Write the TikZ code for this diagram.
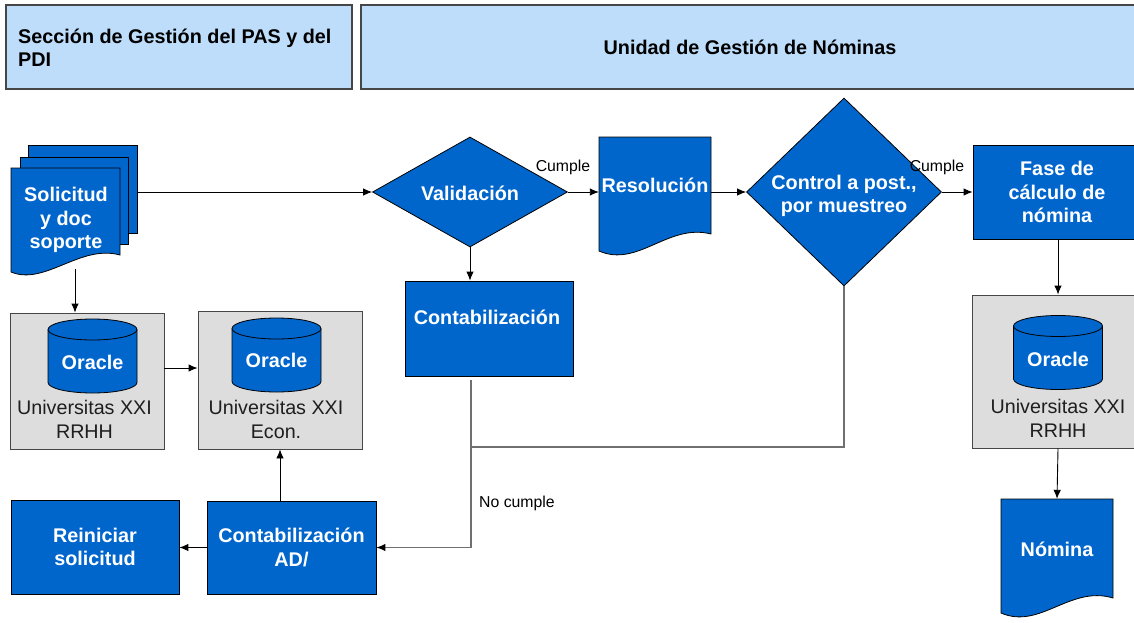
\documentclass[tikz,border=0pt]{standalone}
\usepackage{fontspec}
\setmainfont{Liberation Sans}
\usetikzlibrary{shapes.geometric,arrows.meta}
\definecolor{bbox}{RGB}{0,102,204}
\definecolor{hdrblue}{RGB}{189,221,251}
\definecolor{gfill}{RGB}{221,221,221}
\definecolor{glinec}{RGB}{112,112,112}
\definecolor{gborder}{RGB}{70,70,70}
\definecolor{gtxt}{RGB}{30,30,30}
\begin{document}
\begin{tikzpicture}[x=1pt,y=-1pt,
  hdr/.style={draw=gborder, line width=1.3pt, fill=hdrblue, inner sep=0pt},
  htext/.style={text=black, font=\bfseries\fontsize{19.8}{23}\selectfont, inner sep=0pt},
  bluebox/.style={draw=black, line width=0.8pt, fill=bbox, inner sep=0pt},
  bshape/.style={draw=black, line width=0.8pt, fill=bbox},
  dia/.style={diamond, aspect=1, draw=black, line width=0.8pt, fill=bbox, inner sep=0pt},
  btext/.style={text=white, font=\bfseries\fontsize{19.8}{23.5}\selectfont, align=center, inner sep=0pt},
  gbox/.style={draw=gborder, line width=0.9pt, fill=gfill, inner sep=0pt},
  gtext/.style={text=gtxt, font=\fontsize{19.7}{24}\selectfont, align=center, inner sep=0pt},
  lbl/.style={text=black, font=\fontsize{15.8}{17}\selectfont, inner sep=0pt},
  ghost/.style={inner sep=0pt, draw=none},
  conn/.style={draw=black, line width=0.9pt, -{Latex[length=9pt,width=7.5pt]}},
  gconn/.style={draw=glinec, line width=1.1pt, -{Latex[length=9pt,width=7.5pt,color=black]}},
  gpath/.style={draw=glinec, line width=1.1pt},
  pics/dbcyl/.style={code={
    \draw[bshape] (-44.5,-26.5) -- (-44.5,26.5) .. controls (-44.5,32.3) and (-24.6,37) .. (0,37)
      .. controls (24.6,37) and (44.5,32.3) .. (44.5,26.5) -- (44.5,-26.5)
      .. controls (44.5,-32.3) and (24.6,-37) .. (0,-37)
      .. controls (-24.6,-37) and (-44.5,-32.3) .. (-44.5,-26.5) -- cycle;
    \draw[draw=black, line width=0.8pt] (-44.5,-26.5) .. controls (-44.5,-20.7) and (-24.6,-16) .. (0,-16)
      .. controls (24.6,-16) and (44.5,-20.7) .. (44.5,-26.5);
  }}
]
\useasboundingbox (0,0) rectangle (1134,623);
\clip (0,0) rectangle (1134,623);
\fill[white] (0,0) rectangle (1134,623);

% headers
\node[hdr, minimum width=346pt, minimum height=84pt] (h1) at (179,47) {};
\node[htext, anchor=west, align=left] (h1t) at (18,48) {Sección de Gestión del PAS y del\\PDI};
\node[hdr, minimum width=779pt, minimum height=84pt] (h2) at (750.5,47) {};
\node[htext] (h2t) at (750,47) {Unidad de Gestión de Nóminas};

% Solicitud (multi-document)
\node[ghost, minimum width=126pt, minimum height=132pt] (sol) at (74,211) {};
\draw[bshape] (28,145) rectangle (137,233);
\draw[bshape] (20,157) rectangle (128,244);
\draw[bshape] (11,168) -- (120,168) -- (120,255) .. controls (80,244) and (45,286) .. (11,272) -- cycle;
\node[btext] (solt) at (66,220) {Solicitud\\y doc\\soporte};
\coordinate (solB) at (75,269);

% Validacion
\node[dia, minimum width=195pt, minimum height=110pt] (val) at (470,192) {};
\node[btext] (valt) at (470,193) {Validación};
\node[lbl] (cu1) at (563,167) {Cumple};

% Resolucion (document)
\node[ghost, minimum width=112pt, minimum height=120pt] (res) at (655,197) {};
\draw[bshape] (599,137) -- (711,137) -- (711,234) .. controls (668,223) and (638,268) .. (599,251) -- cycle;
\node[btext] (rest) at (655,185) {Resolución};

% Control
\node[dia, minimum width=195pt, minimum height=188pt] (ctrl) at (844,192) {};
\node[btext] (ctrlt) at (844,196) {Control a post.,\\por muestreo};
\node[lbl] (cu2) at (937,167) {Cumple};

% Fase
\node[bluebox, btext, minimum width=168pt, minimum height=94pt] (fase) at (1057,192) {Fase de\\cálculo de\\nómina};

% gray box right
\node[gbox, minimum width=172pt, minimum height=153pt] (g3) at (1058,371.5) {};
\pic at (1058,352.5) {dbcyl};
\node[btext] (o3) at (1058,359) {Oracle};
\node[gtext] (g3t) at (1058,418) {Universitas XXI\\RRHH};

% Nomina (document)
\node[ghost, minimum width=112pt, minimum height=121pt] (nom) at (1057,559.5) {};
\draw[bshape] (1001,499) -- (1113,499) -- (1113,598) .. controls (1070,585) and (1040,630) .. (1001,613) -- cycle;
\node[btext] (nomt) at (1057,549) {Nómina};

% Contabilizacion
\node[bluebox, minimum width=168pt, minimum height=95pt] (cont) at (489,328.5) {};
\node[btext] (contt) at (487,317) {Contabilización};

% gray boxes left
\node[gbox, minimum width=154pt, minimum height=136pt] (g1) at (87,381) {};
\pic at (92.5,356) {dbcyl};
\node[btext] (o1) at (92.5,362) {Oracle};
\node[gtext] (g1t) at (84.5,419.5) {Universitas XXI\\RRHH};

\node[gbox, minimum width=164pt, minimum height=138pt] (g2) at (280,380) {};
\pic at (276.5,355) {dbcyl};
\node[btext] (o2) at (276.5,360) {Oracle};
\node[gtext] (g2t) at (276,419.5) {Universitas XXI\\Econ.};

% bottom boxes
\node[bluebox, btext, minimum width=168pt, minimum height=94pt] (rein) at (95,547) {Reiniciar\\solicitud};
\node[bluebox, btext, minimum width=169pt, minimum height=93pt] (cad) at (291.5,547.5) {Contabilización\\AD/};

% connectors
\draw[conn] (sol.east |- val.west) -- (val.west);
\draw[conn] (solB) -- (solB |- g1.north);
\draw[conn] ([yshift=13pt]g1.east) -- ([yshift=13pt]g1.east -| g2.west);
\draw[conn] (g2.south |- cad.north) -- (g2.south);
\draw[conn] (cad.west) -- (cad.west -| rein.east);
\draw[conn] (val.south) -- (val.south |- cont.north);
\draw[conn] (val.east) -- (val.east -| res.west);
\draw[conn] (res.east |- ctrl.west) -- (ctrl.west);
\draw[conn] (ctrl.east) -- (ctrl.east -| fase.west);
\draw[conn] (fase.south -| g3.north) -- (g3.north);
\draw[conn] (g3.south) -- (nom.north);

\coordinate (cj) at (471,447);
\draw[gconn] ([yshift=-4pt]cj |- cont.south) -- (cj) -- (cj |- cad.east) -- (cad.east);
\draw[gpath] (cj) -- (cj -| ctrl.south) -- (ctrl.south);
\node[lbl, anchor=west] (nc) at (479,503) {No cumple};
\end{tikzpicture}
\end{document}
